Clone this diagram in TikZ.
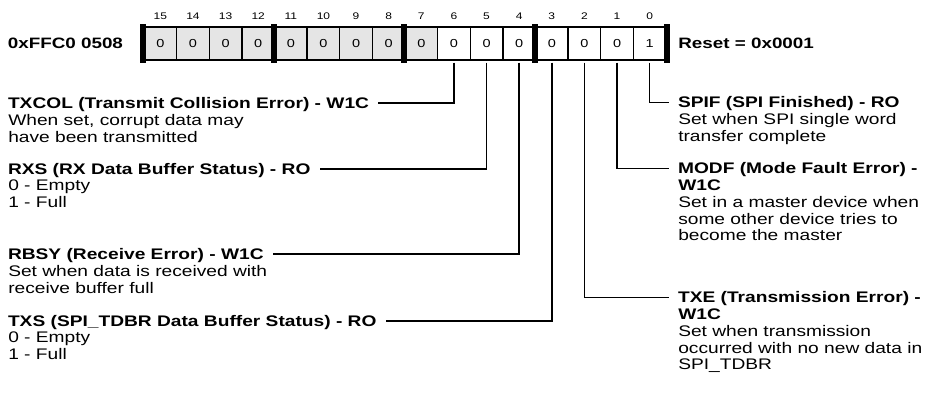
\documentclass[tikz,border=0pt]{standalone}
\usepackage{fontspec}
\setmainfont{Liberation Sans}[FakeStretch=1.25]
\usetikzlibrary{positioning}
\definecolor{RegInk}{RGB}{0,0,0}
\definecolor{RegGray}{RGB}{229,229,229}
\tikzset{
  reg/cell/.style={
    draw=RegInk,
    line width=1.1pt,
    fill=white,
    minimum width=24.47pt,
    minimum height=24.75pt,
    inner sep=0pt,
    font=\fontsize{8.7}{10}\selectfont
  },
  reg/graycell/.style={reg/cell, fill=RegGray},
  reg/bitnum/.style={inner sep=0pt, font=\fontsize{7.2}{9}\selectfont},
  reg/sepbar/.style={line width=4.5pt, draw=RegInk},
  reg/label/.style={inner sep=0pt, font=\bfseries\fontsize{11.3}{12.5}\selectfont},
  reg/field/.style={
    inner sep=0pt,
    outer xsep=7pt,
    text height=8.3pt,
    text depth=0pt,
    font=\bfseries\fontsize{11.5}{12.5}\selectfont
  },
  reg/desc/.style={inner sep=0pt, align=left, font=\fontsize{11.5}{12.5}\selectfont},
  reg/link/.style={line width=1.1pt, draw=RegInk}
}
\begin{document}
\begin{tikzpicture}[x=0.75pt,y=-0.75pt]
  \useasboundingbox (0,0) rectangle (929,395);
  % register cells
  \foreach \b in {15,...,7}
    \node[reg/graycell] (b\b) at ({144+(15.5-\b)*32.625},43.5) {0};
  \foreach \b in {6,...,1}
    \node[reg/cell] (b\b) at ({144+(15.5-\b)*32.625},43.5) {0};
  \node[reg/cell] (b0) at ({144+15.5*32.625},43.5) {1};
  \foreach \b in {15,11,7,3}
    \draw[reg/sepbar] ([yshift=1.5pt]b\b.north west) -- ([yshift=-1.5pt]b\b.south west);
  \draw[reg/sepbar] ([yshift=1.5pt]b0.north east) -- ([yshift=-1.5pt]b0.south east);
  \foreach \b in {0,...,15}
    \node[reg/bitnum, above=4.5pt of b\b] (n\b) {\b};
  \node[reg/label, left=15pt of b15] (addr) {0xFFC0 0508};
  \node[reg/label, right=8.5pt of b0] (reset) {Reset = 0x0001};

  % fields, left column
  \node[reg/field, anchor=base west] (txcol) at (-1.3,108.5) {TXCOL (Transmit Collision Error) - W1C};
  \node[reg/desc, anchor=north west] (txcoldesc) at (8,114) {When set, corrupt data may\\have been transmitted};
  \node[reg/field, anchor=base west] (rxs) at (-1.3,174.5) {RXS (RX Data Buffer Status) - RO};
  \node[reg/desc, anchor=north west] (rxsdesc) at (8,180) {0 - Empty\\1 - Full};
  \node[reg/field, anchor=base west] (rbsy) at (-1.3,259.5) {RBSY (Receive Error) - W1C};
  \node[reg/desc, anchor=north west] (rbsydesc) at (8,265) {Set when data is received with\\receive buffer full};
  \node[reg/field, anchor=base west] (txs) at (-1.3,326.5) {TXS (SPI\_TDBR Data Buffer Status) - RO};
  \node[reg/desc, anchor=north west] (txsdesc) at (8,332) {0 - Empty\\1 - Full};

  % fields, right column
  \node[reg/field, anchor=base west] (spif) at (668.7,108) {SPIF (SPI Finished) - RO};
  \node[reg/desc, anchor=north west] (spifdesc) at (678,113.5) {Set when SPI single word\\transfer complete};
  \node[reg/field, anchor=base west] (modf) at (668.7,174) {MODF (Mode Fault Error) -};
  \node[reg/desc, anchor=north west] (modfdesc) at (678,179.7) {\textbf{W1C}\\Set in a master device when\\some other device tries to\\become the master};
  \node[reg/field, anchor=base west] (txe) at (668.7,303) {TXE (Transmission Error) -};
  \node[reg/desc, anchor=north west] (txedesc) at (678,308.7) {\textbf{W1C}\\Set when transmission\\occurred with no new data in\\SPI\_TDBR};

  \draw[reg/link] ([yshift=-1.5pt]b6.south) |- (txcol.east);
  \draw[reg/link] ([yshift=-1.5pt]b5.south) |- (rxs.east);
  \draw[reg/link] ([yshift=-1.5pt]b4.south) |- (rbsy.east);
  \draw[reg/link] ([yshift=-1.5pt]b3.south) |- (txs.east);
  \draw[reg/link] ([yshift=-1.5pt]b0.south) |- (spif.west);
  \draw[reg/link] ([yshift=-1.5pt]b1.south) |- (modf.west);
  \draw[reg/link] ([yshift=-1.5pt]b2.south) |- (txe.west);
\end{tikzpicture}
\end{document}
